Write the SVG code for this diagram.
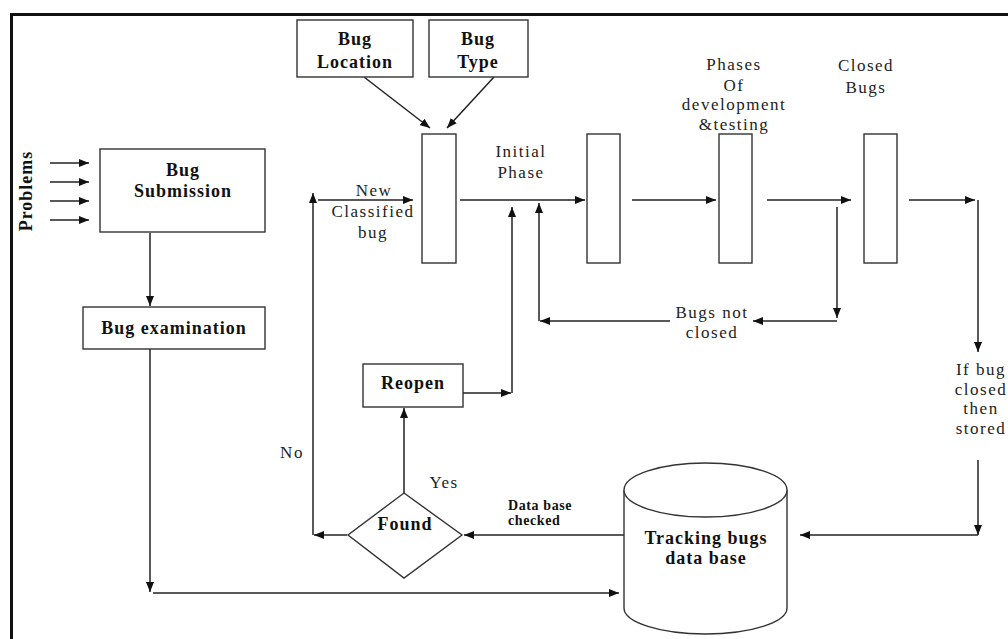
<svg xmlns="http://www.w3.org/2000/svg" width="1008" height="639" viewBox="0 0 1008 639">
<style>
.box{fill:#fff;stroke:#333;stroke-width:1.4}
.c{fill:none;stroke:#222;stroke-width:1.5}
.b{font-family:"Liberation Serif",serif;font-weight:bold;font-size:18px;letter-spacing:1px;fill:#111;text-anchor:middle}
.n{font-family:"Liberation Serif",serif;font-size:17px;letter-spacing:1.5px;fill:#222;text-anchor:middle}
.s{font-family:"Liberation Serif",serif;font-weight:bold;font-size:14px;letter-spacing:0.6px;fill:#111}
</style>
<defs>
<marker id="ah" viewBox="0 0 10 8" refX="10" refY="4" markerWidth="10" markerHeight="8" orient="auto" markerUnits="userSpaceOnUse"><path d="M0,0 L10,4 L0,8 z" fill="#111"/></marker>
</defs>
<rect width="1008" height="639" fill="#fff"/>
<path d="M11.5,639 V14.5 H1008" fill="none" stroke="#111" stroke-width="3"/>

<g id="connectors" class="c" marker-end="url(#ah)">
<path d="M50,163 H89"/>
<path d="M50,182 H89"/>
<path d="M50,201 H89"/>
<path d="M50,220 H89"/>
<path d="M150,233 V306"/>
<path d="M150,349 V592"/>
<path d="M153,593 H619"/>
<path d="M364,77 L430,128"/>
<path d="M494,77 L447,128"/>
<path d="M347,535 H314"/>
<path d="M313,535 V193"/>
<path d="M318,200 H413"/>
<path d="M460,200 H585"/>
<path d="M632,200 H716"/>
<path d="M767,200 H851"/>
<path d="M909,200 H975"/>
<path d="M978,200 V352"/>
<path d="M978,460 V535"/>
<path d="M978,535 H800"/>
<path d="M624,535 H464"/>
<path d="M404,493 V408"/>
<path d="M463,393 H511"/>
<path d="M512,393 V207"/>
<path d="M837,207 V318"/>
<path d="M837,321 H753"/>
<path d="M670,321 H540"/>
<path d="M539,321 V203"/>
</g>

<g id="problems"><text class="b" font-size="16" transform="translate(32,191) rotate(-90)">Problems</text></g>

<g id="bug-submission">
<rect class="box" x="100" y="149" width="165" height="83"/>
<text class="b" x="183" y="176">Bug</text>
<text class="b" x="183" y="197">Submission</text>
</g>
<g id="bug-examination">
<rect class="box" x="83" y="307" width="182" height="42"/>
<text class="b" x="174" y="334">Bug examination</text>
</g>
<g id="bug-location">
<rect class="box" x="297" y="20" width="116" height="57"/>
<text class="b" x="355" y="45">Bug</text>
<text class="b" x="355" y="68">Location</text>
</g>
<g id="bug-type">
<rect class="box" x="429" y="20" width="99" height="57"/>
<text class="b" x="478" y="45">Bug</text>
<text class="b" x="478" y="68">Type</text>
</g>
<g id="stage1"><rect class="box" x="422" y="134" width="34" height="129"/></g>
<g id="stage2"><rect class="box" x="587" y="134" width="33" height="129"/></g>
<g id="stage3"><rect class="box" x="719" y="134" width="33" height="129"/></g>
<g id="stage4"><rect class="box" x="864" y="134" width="33" height="129"/></g>
<g id="reopen">
<rect class="box" x="363" y="364" width="100" height="43"/>
<text class="b" x="413" y="389">Reopen</text>
</g>
<g id="found">
<path class="box" d="M404,493 L462,535 L404,578 L348,535 Z"/>
<text class="b" x="405" y="530">Found</text>
</g>
<g id="database">
<path class="box" d="M624,490 V608 A81.5,26 0 0 0 787,608 V490"/>
<ellipse class="box" cx="705.5" cy="490" rx="81.5" ry="27"/>
<text class="b" x="706" y="544">Tracking bugs</text>
<text class="b" x="706" y="564">data base</text>
</g>

<g id="labels">
<text class="n" x="374" y="196">New</text>
<text class="n" x="373" y="217">Classified</text>
<text class="n" x="373" y="238">bug</text>
<text class="n" x="521" y="157">Initial</text>
<text class="n" x="521" y="178">Phase</text>
<text class="n" x="734" y="70">Phases</text>
<text class="n" x="734" y="91">Of</text>
<text class="n" x="734" y="110">development</text>
<text class="n" x="734" y="130">&amp;testing</text>
<text class="n" x="866" y="71">Closed</text>
<text class="n" x="866" y="93">Bugs</text>
<text class="n" x="712" y="318">Bugs not</text>
<text class="n" x="712" y="338">closed</text>
<text class="n" x="981" y="375">If bug</text>
<text class="n" x="981" y="395">closed</text>
<text class="n" x="981" y="414">then</text>
<text class="n" x="981" y="434">stored</text>
<text class="n" x="292" y="458">No</text>
<text class="n" x="444" y="488">Yes</text>
<text class="s" x="508" y="510">Data base</text>
<text class="s" x="508" y="525">checked</text>
</g>
</svg>
